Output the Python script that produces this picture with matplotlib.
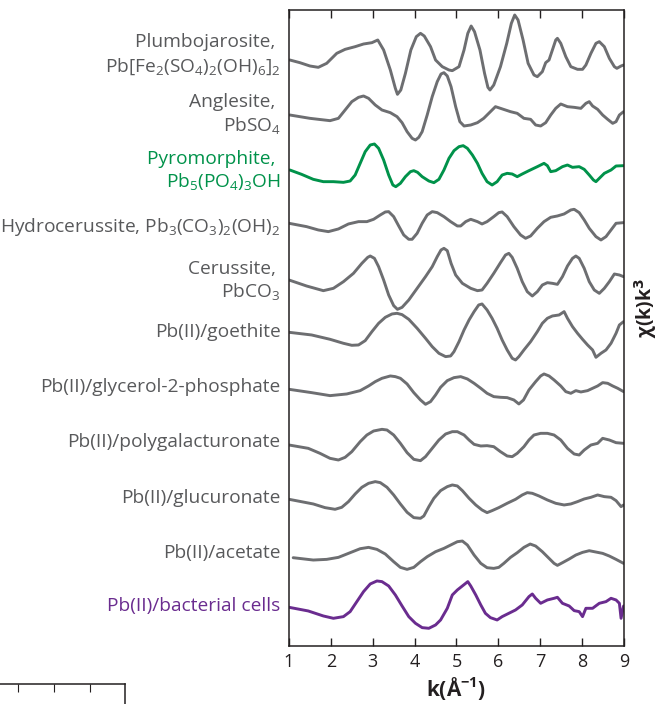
import matplotlib
matplotlib.use("Agg")
import matplotlib.pyplot as plt
import matplotlib.transforms as mtransforms

plt.rcParams['font.family'] = ['Open Sans', 'DejaVu Sans']
plt.rcParams['mathtext.default'] = 'regular'

# ---------------- data (chi(k)k^3, arbitrary units, each curve relative to its own start) ----
k_plumbojarosite = [1.02,1.26,1.50,1.70,1.90,2.14,2.34,2.58,2.78,2.98,3.12,3.26,3.42,3.54,3.59,3.67,3.78,3.91,4.04,4.14,4.23,4.38,4.50,4.66,4.82,4.90,5.06,5.18,5.27,5.35,5.43,5.56,5.67,5.75,5.80,5.89,6.05,6.20,6.31,6.39,6.47,6.59,6.71,6.85,6.93,7.05,7.13,7.21,7.29,7.37,7.41,7.49,7.61,7.73,7.89,8.01,8.09,8.21,8.33,8.41,8.53,8.65,8.77,8.83,8.93,8.99]
chi_plumbojarosite = [0,-8,-18,-22,-10,20,32,40,48,52,60,30,-30,-85,-103,-90,-40,30,70,80,72,40,0,-20,-30,-32,-20,30,80,102,85,30,-40,-82,-90,-75,-20,50,110,135,120,60,-10,-45,-50,-35,-8,0,30,60,65,50,10,-20,-28,-28,-15,20,50,55,40,5,-20,-25,-18,-15]

k_anglesite = [1.02,1.50,1.98,2.18,2.34,2.50,2.66,2.78,2.90,3.06,3.22,3.42,3.58,3.70,3.82,3.94,4.02,4.10,4.18,4.30,4.42,4.54,4.63,4.70,4.78,4.87,4.98,5.08,5.18,5.34,5.50,5.65,5.81,5.93,6.05,6.29,6.45,6.61,6.77,6.89,7.01,7.13,7.25,7.37,7.49,7.65,7.81,7.97,8.09,8.17,8.25,8.37,8.49,8.61,8.73,8.81,8.89,8.99]
chi_anglesite = [0,-10,-17,-10,15,40,53,57,50,30,15,7,-5,-23,-50,-70,-75,-67,-50,0,55,100,123,127,117,85,25,-20,-33,-30,-23,-10,10,25,20,10,5,-10,-13,-30,-33,-23,0,20,33,25,23,20,35,40,27,17,0,-13,-25,-20,0,10]

k_pyromorphite = [1.02,1.30,1.58,1.82,2.06,2.30,2.46,2.58,2.70,2.82,2.94,3.04,3.14,3.26,3.38,3.48,3.55,3.66,3.78,3.90,3.98,4.07,4.18,4.34,4.46,4.58,4.70,4.82,4.94,5.06,5.16,5.26,5.38,5.50,5.61,5.73,5.85,5.97,6.09,6.21,6.33,6.45,6.57,6.73,6.93,7.09,7.17,7.25,7.37,7.53,7.65,7.77,7.93,8.05,8.17,8.27,8.33,8.41,8.53,8.69,8.81,8.99]
chi_pyromorphite = [0,-13,-28,-35,-35,-37,-33,-15,20,55,75,78,65,30,-15,-45,-50,-40,-20,-5,-2,-7,-20,-33,-38,-28,0,35,58,70,73,65,45,20,-10,-35,-45,-35,-15,-10,-12,-20,-12,-2,10,20,13,-5,-2,10,15,8,10,2,-15,-30,-35,-25,-10,0,12,13]

k_hydrocerussite = [1.0,1.42,1.70,1.94,2.18,2.42,2.66,2.86,3.02,3.18,3.30,3.38,3.50,3.62,3.74,3.86,3.94,4.06,4.18,4.30,4.42,4.54,4.70,4.86,5.02,5.10,5.22,5.34,5.50,5.61,5.73,5.89,6.01,6.09,6.21,6.37,6.53,6.65,6.77,6.93,7.09,7.25,7.41,7.57,7.73,7.81,7.93,8.05,8.17,8.33,8.45,8.57,8.69,8.81,8.99]
chi_hydrocerussite = [0,-10,-20,-25,-17,-2,5,5,12,25,34,35,20,-8,-35,-48,-48,-30,0,25,35,32,20,5,-8,-8,5,12,5,-2,5,20,32,34,20,-10,-35,-45,-38,-15,5,18,22,28,40,42,32,10,-15,-40,-50,-40,-20,0,2]

k_cerussite = [1.0,1.42,1.82,2.06,2.30,2.54,2.74,2.88,2.94,3.04,3.14,3.26,3.38,3.50,3.59,3.70,3.86,4.06,4.26,4.42,4.54,4.63,4.70,4.78,4.87,4.98,5.14,5.34,5.50,5.61,5.73,5.89,6.05,6.17,6.25,6.33,6.45,6.57,6.69,6.81,6.93,7.05,7.17,7.29,7.41,7.53,7.65,7.77,7.85,7.93,8.05,8.17,8.29,8.41,8.53,8.65,8.77,8.89,8.99]
chi_cerussite = [0,-18,-32,-25,-5,20,50,68,72,65,40,0,-45,-77,-88,-82,-60,-25,10,40,70,90,95,88,50,15,-10,-25,-32,-30,-10,20,52,75,80,68,35,-5,-35,-48,-35,-15,-8,-10,-13,10,42,65,72,65,35,-5,-30,-40,-25,-5,18,15,10]

k_goethite = [1.0,1.54,1.98,2.30,2.50,2.66,2.82,2.98,3.14,3.30,3.46,3.58,3.70,3.86,4.06,4.26,4.42,4.58,4.74,4.86,4.94,5.06,5.18,5.30,5.42,5.53,5.61,5.73,5.85,5.97,6.09,6.21,6.33,6.41,6.49,6.61,6.77,6.93,7.05,7.17,7.29,7.45,7.57,7.65,7.77,7.89,8.01,8.13,8.25,8.33,8.45,8.57,8.69,8.81,8.89,8.99]
chi_goethite = [0,-8,-21,-33,-39,-38,-25,2,27,45,55,57,53,39,12,-18,-43,-63,-73,-71,-58,-28,7,37,62,82,85,67,42,12,-23,-53,-78,-83,-73,-53,-28,2,27,42,49,52,62,42,17,-3,-21,-38,-53,-75,-63,-53,-33,-3,22,32]

k_glycerol = [1.0,1.54,1.98,2.38,2.70,2.90,3.06,3.22,3.42,3.54,3.66,3.82,3.98,4.14,4.26,4.38,4.50,4.62,4.78,4.94,5.10,5.26,5.42,5.58,5.73,5.89,6.05,6.21,6.37,6.49,6.60,6.73,6.89,7.01,7.09,7.21,7.33,7.49,7.61,7.73,7.85,7.97,8.13,8.25,8.37,8.49,8.61,8.73,8.85,8.99]
chi_glycerol = [0,-10,-19,-14,-4,10,23,33,40,38,33,16,-10,-32,-45,-37,-17,6,26,35,38,31,18,3,-12,-22,-24,-25,-32,-44,-32,-2,23,40,46,40,28,10,-7,-12,-4,-8,-4,3,10,20,18,10,3,-7]

k_polygalacturonate = [1.0,1.46,1.74,1.98,2.18,2.34,2.50,2.70,2.86,3.02,3.22,3.34,3.50,3.66,3.82,3.98,4.14,4.26,4.42,4.58,4.74,4.90,5.02,5.18,5.30,5.42,5.58,5.73,5.89,6.05,6.21,6.33,6.45,6.61,6.73,6.85,7.01,7.17,7.33,7.49,7.65,7.81,7.93,8.05,8.21,8.37,8.49,8.65,8.81,8.99]
chi_polygalacturonate = [0,-10,-25,-40,-45,-37,-20,10,30,42,47,45,30,5,-23,-43,-47,-35,-10,15,33,40,40,30,15,2,-3,-2,-5,-20,-33,-35,-25,-5,15,30,35,35,30,15,-10,-27,-30,-15,0,5,20,15,7,5]

k_glucuronate = [1.0,1.58,1.86,2.10,2.26,2.42,2.58,2.74,2.90,3.06,3.18,3.34,3.50,3.66,3.82,3.98,4.14,4.22,4.34,4.46,4.62,4.78,4.90,5.02,5.14,5.30,5.46,5.61,5.73,5.85,6.01,6.21,6.41,6.57,6.69,6.81,6.97,7.17,7.37,7.57,7.73,7.89,8.05,8.21,8.37,8.53,8.69,8.81,8.93,8.99]
chi_glucuronate = [0,-14,-25,-30,-24,-7,16,36,48,53,50,36,13,-14,-39,-55,-57,-50,-22,3,26,38,43,40,26,3,-17,-32,-40,-34,-25,-12,0,13,20,18,10,-2,-12,-17,-14,-7,1,6,13,8,6,-4,-22,-17]

k_acetate = [1.10,1.58,1.90,2.18,2.46,2.70,2.90,3.10,3.30,3.50,3.66,3.82,3.98,4.14,4.30,4.50,4.70,4.86,5.02,5.14,5.26,5.42,5.58,5.73,5.89,6.01,6.13,6.29,6.45,6.61,6.76,6.89,7.05,7.21,7.33,7.41,7.53,7.69,7.85,8.01,8.17,8.33,8.49,8.65,8.81,8.99]
chi_acetate = [0,-7,-5,1,15,27,31,25,11,-12,-29,-35,-29,-12,3,18,28,38,48,50,38,8,-17,-30,-32,-29,-17,1,15,31,41,35,18,-2,-17,-23,-15,-4,8,16,21,17,13,5,-5,-17]

k_bacterial = [1.0,1.46,1.82,2.06,2.30,2.46,2.62,2.78,2.94,3.10,3.22,3.38,3.54,3.70,3.86,4.02,4.18,4.34,4.50,4.62,4.78,4.90,5.02,5.14,5.22,5.27,5.34,5.46,5.58,5.69,5.81,5.97,6.09,6.25,6.41,6.57,6.73,6.81,6.89,7.01,7.17,7.33,7.41,7.53,7.69,7.81,7.93,8.01,8.09,8.25,8.41,8.57,8.69,8.81,8.89,8.93,8.99]
chi_bacterial = [0,-11,-26,-33,-28,-13,17,47,70,79,77,64,37,4,-28,-48,-61,-63,-53,-38,-3,37,52,64,72,77,64,37,7,-18,-31,-38,-28,-18,-8,7,32,40,27,12,22,27,30,12,4,-10,-13,-28,-3,-3,12,17,27,22,12,-33,4]

x_ticks = [1, 2, 3, 4, 5, 6, 7, 8, 9]

# ---------------- layout / style ----------------
GRAY = '#6d6e71'
GREEN = '#00924a'
PURPLE = '#6a2c8f'
TEXT = '#58595b'
DARK = '#231f20'

curves = [
    (k_plumbojarosite, chi_plumbojarosite, 586.0, GRAY),
    (k_anglesite, chi_anglesite, 531.0, GRAY),
    (k_pyromorphite, chi_pyromorphite, 476.0, GREEN),
    (k_hydrocerussite, chi_hydrocerussite, 422.7, GRAY),
    (k_cerussite, chi_cerussite, 366.0, GRAY),
    (k_goethite, chi_goethite, 313.7, GRAY),
    (k_glycerol, chi_glycerol, 256.7, GRAY),
    (k_polygalacturonate, chi_polygalacturonate, 201.0, GRAY),
    (k_glucuronate, chi_glucuronate, 146.7, GRAY),
    (k_acetate, chi_acetate, 88.3, GRAY),
    (k_bacterial, chi_bacterial, 38.7, PURPLE),
]
SCALE = 1.0 / 3.0

labels = [
    ("Plumbojarosite, ", 604, TEXT),
    (r"Pb[Fe$_{2}$(SO$_{4}$)$_{2}$(OH)$_{6}$]$_{2}$", 579, TEXT),
    ("Anglesite, ", 544, TEXT),
    (r"PbSO$_{4}$", 520, TEXT),
    ("Pyromorphite, ", 487, GREEN),
    (r"Pb$_{5}$(PO$_{4}$)$_{3}$OH", 464, GREEN),
    (r"Hydrocerussite, Pb$_{3}$(CO$_{3}$)$_{2}$(OH)$_{2}$", 419, TEXT),
    ("Cerussite, ", 377, TEXT),
    (r"PbCO$_{3}$", 354, TEXT),
    ("Pb(II)/goethite", 314, TEXT),
    ("Pb(II)/glycerol-2-phosphate", 259, TEXT),
    ("Pb(II)/polygalacturonate", 204, TEXT),
    ("Pb(II)/glucuronate", 148, TEXT),
    ("Pb(II)/acetate", 93, TEXT),
    ("Pb(II)/bacterial cells", 40, PURPLE),
]

W, H = 661, 704
fig = plt.figure(figsize=(W / 100, H / 100), dpi=100)
ax = fig.add_axes([289 / W, 1 - 646 / H, (624 - 289) / W, (646 - 10) / H])

for k, chi, off, col in curves:
    ax.plot(k, [off + c * SCALE for c in chi], color=col, lw=2.1,
            solid_joinstyle='round', solid_capstyle='round')

ax.set_xlim(1, 9)
ax.set_ylim(0, 636)
ax.set_yticks([])
ax.set_xticks(x_ticks)
ax.set_xticklabels([str(t) for t in x_ticks], fontsize=13, color=DARK)
ax.tick_params(axis='x', direction='in', length=6, width=1.0, top=True,
               bottom=True, pad=5, colors=DARK)
for s in ax.spines.values():
    s.set_linewidth(1.1)
    s.set_color(DARK)

ax.set_xlabel(r"k(Å$^{-1}$)", fontsize=15, fontweight='bold', color=DARK, labelpad=3)

trans = mtransforms.blended_transform_factory(ax.transAxes, ax.transData)
for txt, y, col in labels:
    ax.text(-0.025, y, txt, transform=trans, ha='right', va='center',
            fontsize=13.8, color=col)

fig.text(646 / W, 1 - 308 / H, r"χ(k)k$^{\mathbf{3}}$", rotation=90, ha='center', va='center',
         fontsize=14, fontweight='bold', color=DARK)

# fragment of neighbouring panel at bottom left
ax2 = fig.add_axes([-0.05, -0.05, (125 / W) + 0.05, (1 - 684 / H) + 0.05])
ax2.set_xlim(0, 1)
ax2.set_ylim(0, 1)
for side in ['left', 'bottom']:
    ax2.spines[side].set_visible(False)
for side in ['top', 'right']:
    ax2.spines[side].set_linewidth(1.1)
    ax2.spines[side].set_color(DARK)
frag_ticks = [(18 + 0.05 * W) / (125 + 0.05 * W), (54 + 0.05 * W) / (125 + 0.05 * W), (90 + 0.05 * W) / (125 + 0.05 * W)]
ax2.set_xticks(frag_ticks)
ax2.set_xticklabels([])
ax2.set_yticks([])
ax2.tick_params(axis='x', direction='in', length=6, top=True, bottom=False, colors=DARK)

fig.savefig("out.png", dpi=100)
